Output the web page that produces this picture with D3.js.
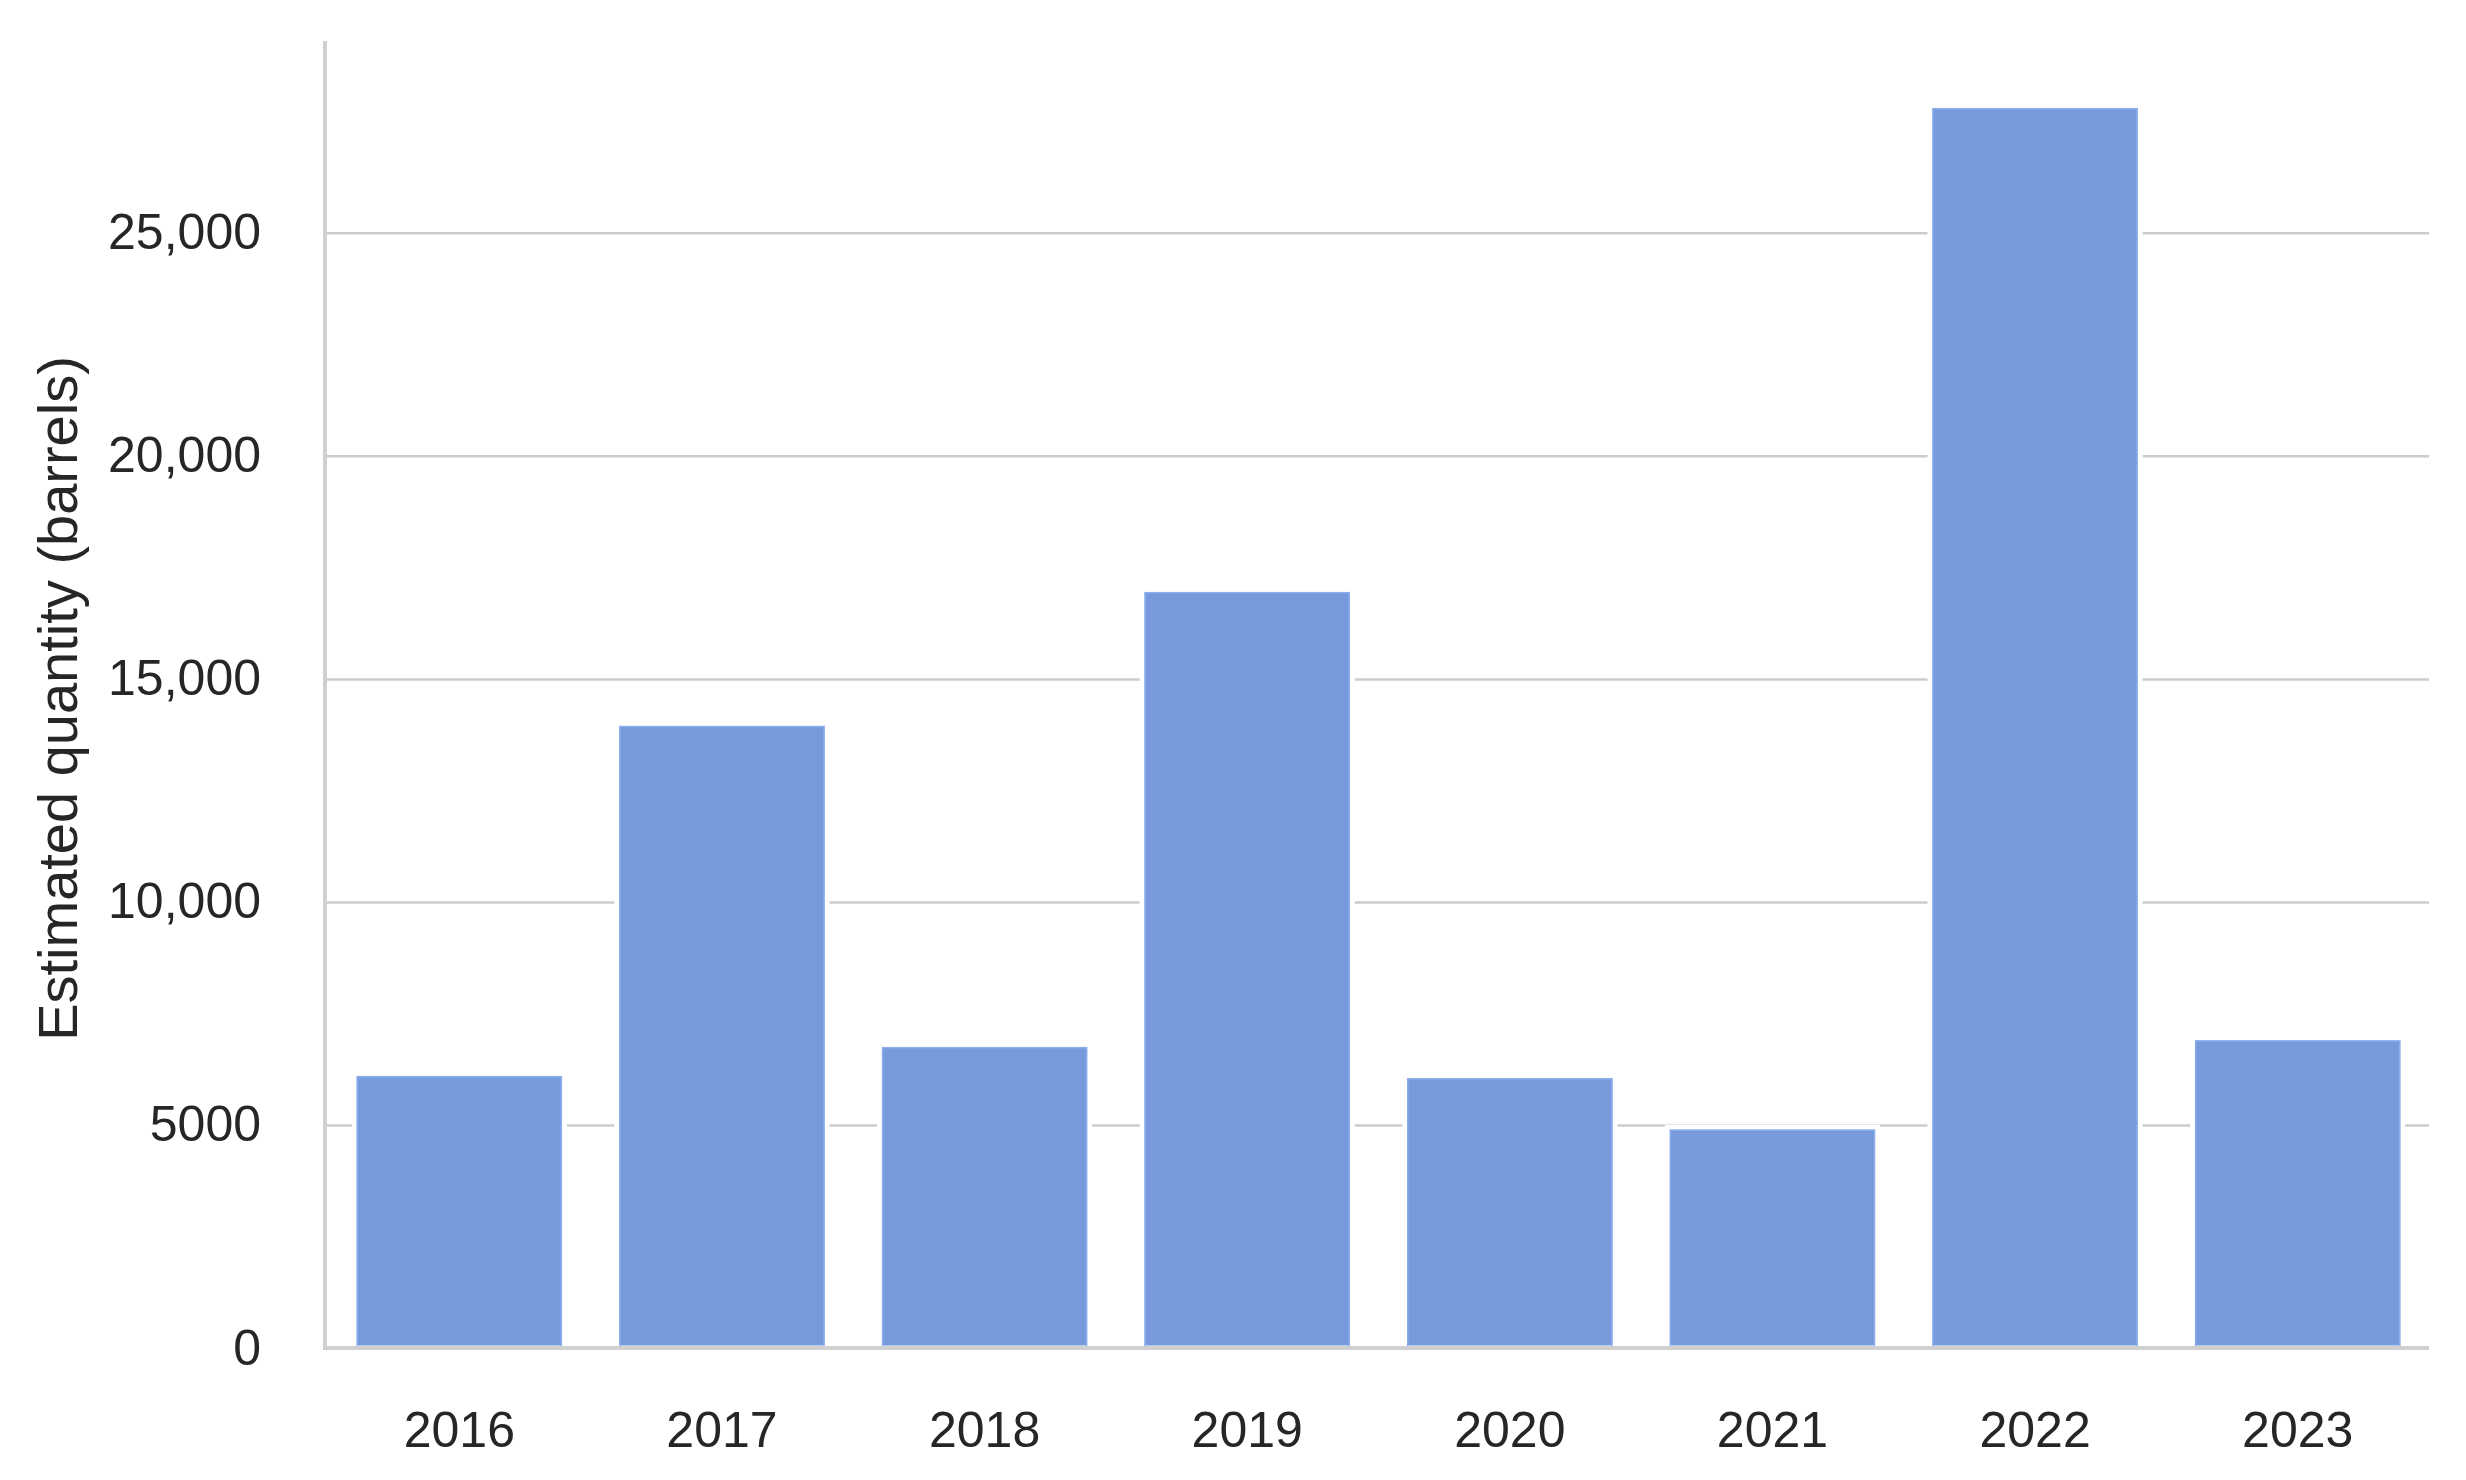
<!DOCTYPE html>
<html>
<head>
<meta charset="utf-8">
<script src="https://cdn.jsdelivr.net/npm/d3@7"></script>
<style>
  html, body { margin: 0; padding: 0; background: #ffffff; }
  svg { display: block; }
</style>
</head>
<body>
<script>
const years = ["2016", "2017", "2018", "2019", "2020", "2021", "2022", "2023"];
const quantities = [6150, 14000, 6800, 17000, 6100, 4950, 27850, 6950];
const yTickValues = [0, 5000, 10000, 15000, 20000, 25000];
const yTickLabels = ["0", "5000", "10,000", "15,000", "20,000", "25,000"];
const yAxisTitle = "Estimated quantity (barrels)";

const W = 2466, H = 1480;
const margin = { left: 325, right: 37, top: 41, bottom: 132 };
const barColor = "#769adb";
const gridColor = "#cccccc";
const textColor = "#262626";
const font = "'Liberation Sans', Arial, Helvetica, sans-serif";

const svg = d3.select("body").append("svg")
  .attr("width", W).attr("height", H);

const x = d3.scaleBand()
  .domain(years)
  .range([margin.left + 3, W - margin.right])
  .paddingInner(0.2)
  .paddingOuter(0.1);

const y = d3.scaleLinear()
  .domain([0, 29300])
  .range([H - margin.bottom, margin.top]);

// gridlines
const grid = d3.axisLeft(y)
  .tickValues(yTickValues.filter(v => v > 0))
  .tickSize(-(W - margin.right - margin.left))
  .tickFormat("");
svg.append("g")
  .attr("transform", `translate(${margin.left},0)`)
  .call(grid)
  .call(g => g.select(".domain").remove())
  .call(g => g.selectAll("line").attr("stroke", gridColor).attr("stroke-width", 2.5));

// bars
svg.append("g").selectAll("rect")
  .data(years.map((yr, i) => ({ yr, v: quantities[i] })))
  .join("rect")
  .attr("x", d => x(d.yr))
  .attr("y", d => y(d.v))
  .attr("width", x.bandwidth())
  .attr("height", d => y(0) - y(d.v))
  .attr("fill", barColor)
  .attr("stroke", "#ffffff")
  .attr("stroke-width", 5);

svg.append("g").selectAll("rect")
  .data(years.map((yr, i) => ({ yr, v: quantities[i] })))
  .join("rect")
  .attr("x", d => x(d.yr) + 3)
  .attr("y", d => y(d.v) + 3)
  .attr("width", x.bandwidth() - 6)
  .attr("height", d => y(0) - y(d.v) - 3)
  .attr("fill", "none")
  .attr("stroke", "#8aaeee")
  .attr("stroke-width", 1.5);

// y axis
const yAxis = d3.axisLeft(y)
  .tickValues(yTickValues)
  .tickSize(0)
  .tickPadding(64)
  .tickFormat((d, i) => yTickLabels[i]);
svg.append("g")
  .attr("transform", `translate(${margin.left},0)`)
  .call(yAxis)
  .call(g => g.select(".domain").remove())
  .call(g => g.selectAll("text")
    .attr("font-family", font)
    .attr("font-size", 50)
    .attr("fill", textColor));

// x axis
const xAxis = d3.axisBottom(x).tickSize(0).tickPadding(63);
svg.append("g")
  .attr("transform", `translate(0,${H - margin.bottom})`)
  .call(xAxis)
  .call(g => g.select(".domain").remove())
  .call(g => g.selectAll("text")
    .attr("font-family", font)
    .attr("font-size", 50)
    .attr("fill", textColor));

// spines
svg.append("line")
  .attr("x1", margin.left).attr("x2", margin.left)
  .attr("y1", margin.top).attr("y2", H - margin.bottom + 2)
  .attr("stroke", "#d0d0d0").attr("stroke-width", 4);
svg.append("line")
  .attr("x1", margin.left - 2).attr("x2", W - margin.right)
  .attr("y1", H - margin.bottom).attr("y2", H - margin.bottom)
  .attr("stroke", "#d0d0d0").attr("stroke-width", 4);

// y axis title
svg.append("text")
  .attr("transform", `translate(57,${(margin.top + H - margin.bottom) / 2 + 4}) rotate(-90)`)
  .attr("text-anchor", "middle")
  .attr("dominant-baseline", "central")
  .attr("font-family", font)
  .attr("font-size", 56)
  .attr("fill", textColor)
  .text(yAxisTitle);
</script>
</body>
</html>
